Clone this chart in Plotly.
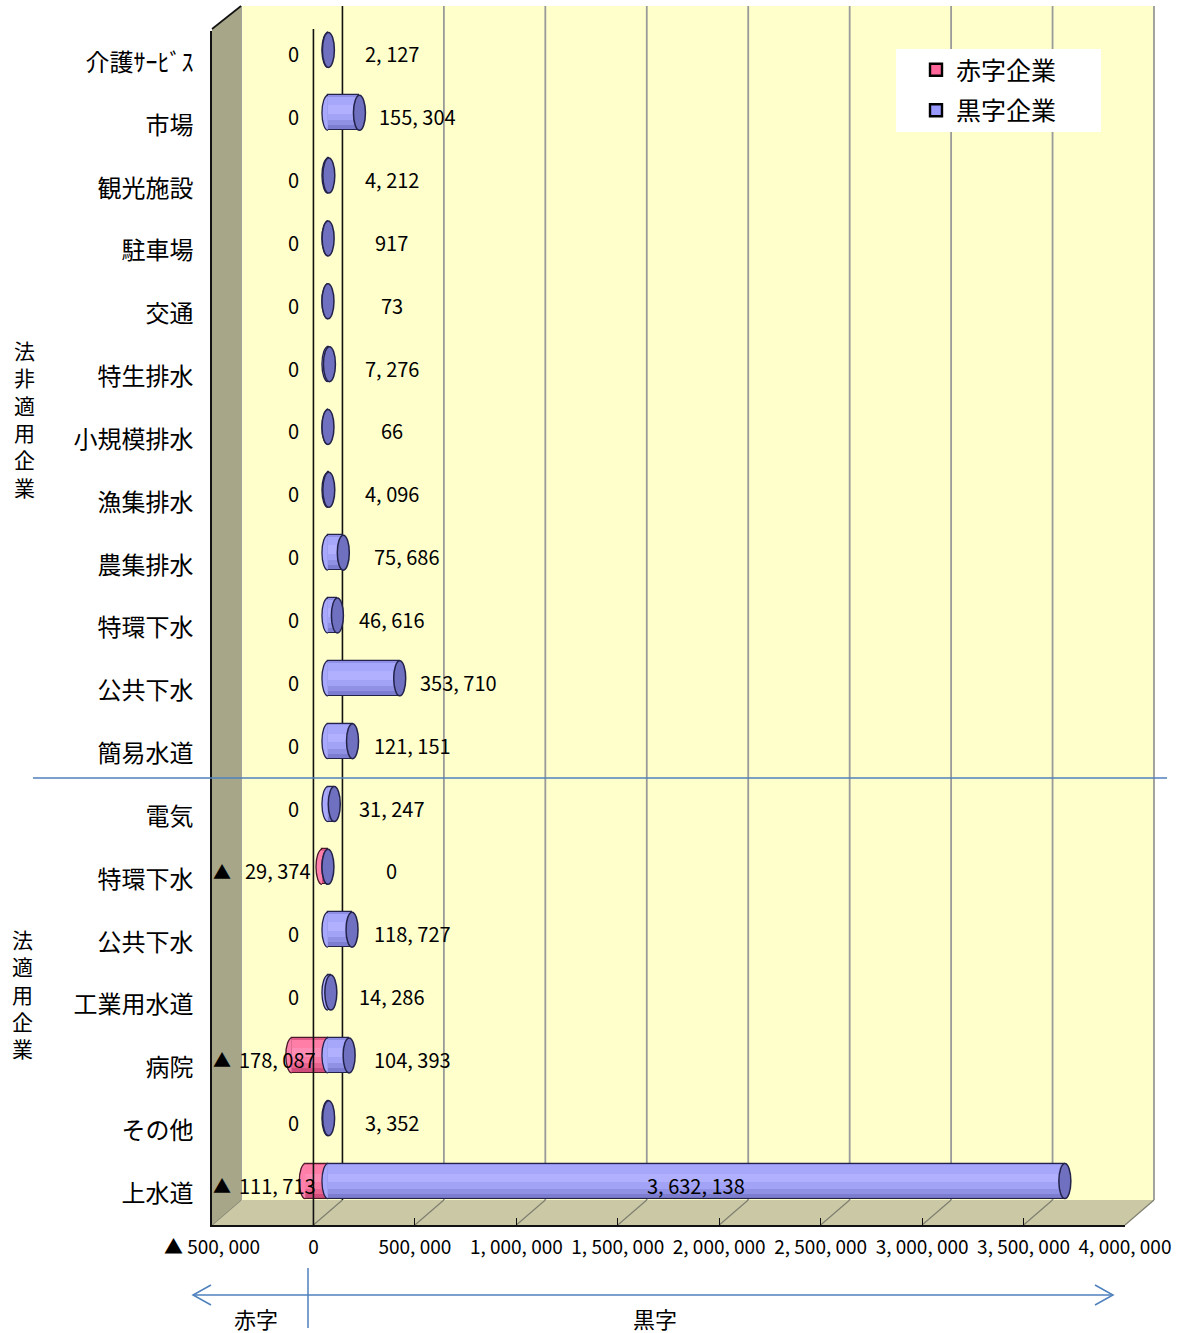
import plotly.graph_objects as go

# ---- data ---------------------------------------------------------------
CATEGORIES = ["介護ｻｰﾋﾞｽ", "市場", "観光施設", "駐車場", "交通", "特生排水",
              "小規模排水", "漁集排水", "農集排水", "特環下水", "公共下水", "簡易水道",
              "電気", "特環下水", "公共下水", "工業用水道", "病院", "その他", "上水道"]
DEFICIT = [0, 0, 0, 0, 0, 0, 0, 0, 0, 0, 0, 0,
           0, 29374, 0, 0, 178087, 0, 111713]
SURPLUS = [2127, 155304, 4212, 917, 73, 7276, 66, 4096, 75686, 46616, 353710, 121151,
           31247, 0, 118727, 14286, 104393, 3352, 3632138]
X_TICK_VALUES = [-500000, 0, 500000, 1000000, 1500000, 2000000,
                 2500000, 3000000, 3500000, 4000000]
X_TICK_LABELS = ["▲ 500, 000", "0", "500, 000", "1, 000, 000", "1, 500, 000",
                 "2, 000, 000", "2, 500, 000", "3, 000, 000", "3, 500, 000", "4, 000, 000"]
SERIES_NAMES = ["赤字企業", "黒字企業"]
GROUP_LABELS = ["法非適用企業", "法適用企業"]
SIDE_LABELS = ["赤字", "黒字"]

# ---- geometry (pixels) --------------------------------------------------
W, H = 1179, 1333
FONT = "Noto Sans CJK JP"
FX0, FX1 = 212, 1125          # front floor edge: left / right
FY0, FY1 = 31, 1225           # front plot area: top / bottom
DX, DY = 29, 25               # depth offset of the back wall
XMIN, XMAX = X_TICK_VALUES[0], X_TICK_VALUES[-1]
PPU = (FX1 - FX0) / (XMAX - XMIN)      # pixels per unit
N = len(CATEGORIES)
ROW = (FY1 - FY0) / N                  # pixels per row
BX_SHIFT = (DX / 2) / PPU              # bars sit half way into the depth
BY_SHIFT = (DY / 2) / ROW
BAR_W = 35 / ROW
CAP_A = 6 / PPU                        # horizontal radius of the end caps
CAP_H = BAR_W / 2


def px(x):
    return x / W


def py(y):
    return 1 - y / H


def front_px(v):
    return FX0 + (v - XMIN) * PPU


rows = list(range(N))

BLUE = dict(body="#8F8FE6", line="#22224A", left="#A8A8FC", cap="#7070C0", key="#9999FF",
            bands=[(-0.25, -0.12, "#A6A6FA"), (-0.12, 0.02, "#B0B0FF"),
                   (0.02, 0.12, "#A2A2F6"), (0.12, 0.20, "#9090E4"),
                   (0.20, 0.26, "#7C7CD0")])
PINK = dict(body="#E05A88", line="#4A1A2A", left="#FF80AA", cap="#C04070", key="#FF6699",
            bands=[(-0.25, -0.12, "#FF7EA8"), (-0.12, 0.02, "#FF8CB4"),
                   (0.02, 0.12, "#F87AA4"), (0.12, 0.20, "#E8648E"),
                   (0.20, 0.26, "#D04C7A")])

fig = go.Figure()

# ---- cylinder bodies ----------------------------------------------------
def add_series(values, name, style, group):
    xs = [v if v != 0 else None for v in values]
    fig.add_trace(go.Bar(
        y=rows, x=xs, base=0, orientation="h", width=BAR_W, name=name,
        legendgroup=group, showlegend=False,
        marker=dict(color=style["body"], line=dict(color=style["line"], width=1.2)),
        xaxis="x2", yaxis="y2", hoverinfo="skip"))
    for lo, hi, col in style["bands"]:
        fig.add_trace(go.Bar(
            y=rows, x=xs, base=0, orientation="h", offset=lo * BAR_W / 0.557,
            width=(hi - lo) * BAR_W / 0.557, marker=dict(color=col, line=dict(width=0)),
            legendgroup=group, showlegend=False, xaxis="x2", yaxis="y2", hoverinfo="skip"))
    # legend key: flat swatch with a heavy border
    fig.add_trace(go.Bar(
        y=[None], x=[None], orientation="h", name=name, legendgroup=group,
        marker=dict(color=style["key"], line=dict(color="black", width=2.4)),
        xaxis="x2", yaxis="y2", hoverinfo="skip"))


add_series([-d for d in DEFICIT], SERIES_NAMES[0], PINK, "deficit")
add_series(SURPLUS, SERIES_NAMES[1], BLUE, "surplus")

shapes = []

# ---- walls and floor ----------------------------------------------------
def poly(points, fill, line_color=None, width=0):
    path = "M " + " L ".join(f"{px(x)},{py(y)}" for x, y in points) + " Z"
    return dict(type="path", path=path, xref="paper", yref="paper", layer="below",
                fillcolor=fill, line=dict(color=line_color or fill, width=width))


BACK_TOP = 6
shapes.append(poly([(FX0 + DX, BACK_TOP), (FX1 + DX, BACK_TOP),
                    (FX1 + DX, FY1 - DY), (FX0 + DX, FY1 - DY)], "#FFFFCC"))
for t in X_TICK_VALUES:
    gx = front_px(t) + DX
    shapes.append(dict(type="line", xref="paper", yref="paper", layer="below",
                       x0=px(gx), x1=px(gx), y0=py(BACK_TOP), y1=py(FY1 - DY),
                       line=dict(color="#111111" if t == 0 else "#9A9A9A",
                                 width=1.6 if t == 0 else 1.8)))
shapes.append(poly([(FX0, FY1), (FX0 + DX, FY1 - DY), (FX1 + DX, FY1 - DY), (FX1, FY1)],
                   "#CBC9A5"))
for t in X_TICK_VALUES:
    fx = front_px(t)
    shapes.append(dict(type="line", xref="paper", yref="paper", layer="below",
                       x0=px(fx), x1=px(fx + DX), y0=py(FY1), y1=py(FY1 - DY),
                       line=dict(color="#7E7E70", width=1.2)))
shapes.append(poly([(FX0, FY0 - 2), (FX0 + DX, BACK_TOP), (FX0 + DX, FY1 - DY), (FX0, FY1)],
                   "#A7A689"))
shapes.append(dict(type="line", xref="paper", yref="paper", layer="below",
                   x0=px(FX0), x1=px(FX0 + DX), y0=py(FY0 - 2), y1=py(BACK_TOP),
                   line=dict(color="#111111", width=1.6)))
# legend box
shapes.append(dict(type="rect", xref="paper", yref="paper", layer="below",
                   x0=px(896), x1=px(1101), y0=py(132), y1=py(49),
                   fillcolor="white", line=dict(width=0)))

# ---- cylinder ends ------------------------------------------------------
def left_cap(lo, r, fill, line):
    k = 0.5523
    a, h = CAP_A, CAP_H
    path = (f"M {lo},{r - h} C {lo - k * a},{r - h} {lo - a},{r - k * h} {lo - a},{r} "
            f"C {lo - a},{r + k * h} {lo - k * a},{r + h} {lo},{r + h}")
    return dict(type="path", path=path, xref="x2", yref="y2", layer="above",
                fillcolor=fill, line=dict(color=line, width=1.3))


def right_cap(hi, r, fill, line):
    return dict(type="circle", xref="x2", yref="y2", layer="above",
                x0=hi - CAP_A, x1=hi + CAP_A, y0=r - CAP_H, y1=r + CAP_H,
                fillcolor=fill, line=dict(color=line, width=1.5))


for r, d in enumerate(DEFICIT):
    if d > 0:
        shapes.append(left_cap(-d, r, PINK["left"], PINK["line"]))
for r, v in enumerate(SURPLUS):
    shapes.append(left_cap(0, r, BLUE["left"], BLUE["line"]))
    shapes.append(right_cap(v, r, BLUE["cap"], BLUE["line"]))

# front zero line, drawn over the bars
shapes.append(dict(type="line", xref="x", yref="paper", layer="above",
                   x0=0, x1=0, y0=py(FY1), y1=py(FY0 - 2),
                   line=dict(color="#111111", width=1.6)))

# group separator
SEP_COLOR = "#4F81BD"
shapes.append(dict(type="line", xref="paper", yref="paper", layer="above",
                   x0=px(33), x1=px(1167), y0=py(778), y1=py(778),
                   line=dict(color=SEP_COLOR, width=1.5)))

# deficit / surplus arrow below the axis
shapes.append(dict(type="line", xref="paper", yref="paper", layer="above",
                   x0=px(193), x1=px(1113), y0=py(1295), y1=py(1295),
                   line=dict(color=SEP_COLOR, width=1.5)))
for tip, back in [(193, 211), (1113, 1095)]:
    shapes.append(dict(type="path", xref="paper", yref="paper", layer="above",
                       path=f"M {px(back)},{py(1285)} L {px(tip)},{py(1295)} L {px(back)},{py(1305)}",
                       line=dict(color=SEP_COLOR, width=1.5)))
shapes.append(dict(type="line", xref="paper", yref="paper", layer="above",
                   x0=px(308), x1=px(308), y0=py(1268), y1=py(1328),
                   line=dict(color=SEP_COLOR, width=1.5)))

# ---- data labels --------------------------------------------------------
def fmt(n):
    return f"{n:,}".replace(",", ", ")


ann = []
LBL = dict(size=20, color="black", family=FONT)
for r, d in enumerate(DEFICIT):
    if d == 0:
        ann.append(dict(x=-34.5 / PPU, y=r, xref="x2", yref="y2", text="0",
                        xanchor="center", yshift=-4, showarrow=False, font=LBL))
    else:
        ann.append(dict(x=-50 / PPU, y=r, xref="x2", yref="y2", text=fmt(d),
                        xanchor="center", yshift=-4, showarrow=False, font=LBL))
        ann.append(dict(x=px(222), y=r, xref="paper", yref="y2", text="▲",
                        xanchor="center", yshift=-4, showarrow=False,
                        font=dict(size=18, color="black", family=FONT)))
for r, v in enumerate(SURPLUS):
    length = v * PPU
    if length > 300:
        x, anchor = v / 2, "center"
    elif v < 60000:
        x, anchor = 64 / PPU, "center"
    else:
        x, anchor = max(44, length + 18) / PPU, "left"
    ann.append(dict(x=x, y=r, xref="x2", yref="y2", text=fmt(v), xanchor=anchor,
                    yshift=-4, showarrow=False, font=LBL))

# group titles, written top to bottom one character per line
GROUP_POS = [(24, 418), (22, 993)]
for label, (gx, gy) in zip(GROUP_LABELS, GROUP_POS):
    ann.append(dict(x=px(gx), y=py(gy), xref="paper", yref="paper",
                    text="<br>".join(label), showarrow=False, xanchor="center",
                    yanchor="middle", font=dict(size=21, color="black", family=FONT)))

SIDE_POS = [(256, 1318), (655, 1318)]
for label, (sx, sy) in zip(SIDE_LABELS, SIDE_POS):
    ann.append(dict(x=px(sx), y=py(sy), xref="paper", yref="paper", text=label,
                    showarrow=False, xanchor="center", yanchor="middle",
                    font=dict(size=22, color="black", family=FONT)))

fig.update_layout(
    width=W, height=H, margin=dict(l=0, r=0, t=0, b=0),
    paper_bgcolor="white", plot_bgcolor="rgba(0,0,0,0)",
    barmode="overlay", bargap=0,
    font=dict(family=FONT, color="black"),
    shapes=shapes, annotations=ann,
    showlegend=True,
    legend=dict(x=px(916), y=py(47), xanchor="left", yanchor="top",
                bgcolor="rgba(0,0,0,0)", font=dict(size=25, family=FONT),
                traceorder="grouped", tracegroupgap=5),
    xaxis=dict(domain=[px(FX0), px(FX1)], range=[XMIN, XMAX],
               tickvals=X_TICK_VALUES, ticktext=X_TICK_LABELS, tickangle=0,
               ticks="inside", ticklen=7, tickcolor="#111111", tickwidth=1.2,
               showline=True, linecolor="#111111", linewidth=1.6,
               showgrid=False, zeroline=False, anchor="y", automargin=False,
               tickfont=dict(size=19, family=FONT), ticklabelstandoff=4),
    yaxis=dict(domain=[py(FY1), py(FY0)], range=[N - 0.5, -0.5],
               tickvals=rows, ticktext=CATEGORIES, ticks="", automargin=False,
               showline=True, linecolor="#111111", linewidth=1.6,
               showgrid=False, zeroline=False, anchor="x",
               tickfont=dict(size=24, family=FONT), ticklabelstandoff=12),
    xaxis2=dict(overlaying="x", range=[XMIN - BX_SHIFT, XMAX - BX_SHIFT],
                visible=False, anchor="y2"),
    yaxis2=dict(overlaying="y", range=[N - 0.5 + BY_SHIFT, -0.5 + BY_SHIFT],
                visible=False, anchor="x2"),
)

fig.write_html("out.html")
